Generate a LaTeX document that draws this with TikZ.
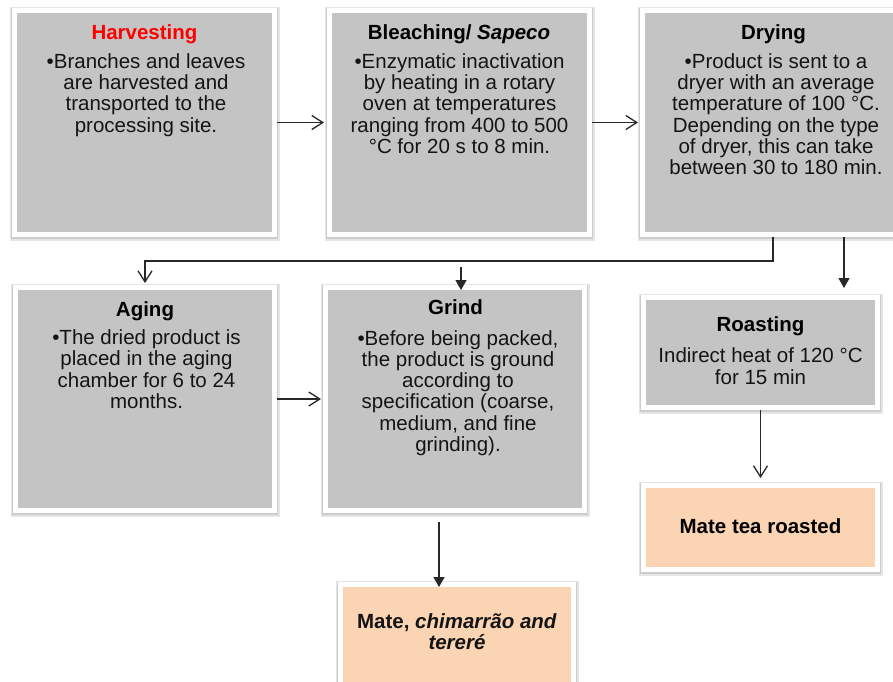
\documentclass[tikz,border=0pt]{standalone}
\usepackage{fontspec}
\setmainfont{Liberation Sans}
\usetikzlibrary{arrows.meta}
\definecolor{boxgray}{RGB}{196,196,196}
\definecolor{peach}{RGB}{251,212,180}
\definecolor{linecol}{RGB}{40,40,40}
\definecolor{titlered}{RGB}{255,0,0}
\begin{document}
\begin{tikzpicture}[x=1pt,y=-1pt,
  framebox/.style={draw=white, line width=5pt, inner sep=0pt,
    preaction={draw=black!10, line width=10pt, transform canvas={yshift=-1.2pt}},
    preaction={draw=black!20, line width=7.5pt, transform canvas={yshift=-1.2pt}}},
  graybox/.style={framebox, fill=boxgray},
  peachbox/.style={framebox, fill=peach},
  ttl/.style={font=\fontsize{20.5}{24}\selectfont\bfseries, anchor=base, inner sep=0pt},
  bodytxt/.style={font=\fontsize{20.5}{21.3}\selectfont, align=center, anchor=base, inner sep=0pt, text=black!92},
  openarrow/.style={draw=linecol, line width=1.3pt, -{Straight Barb[length=11pt,width=14pt]}},
  fillarrow/.style={draw=linecol, line width=1.3pt, -{Triangle[length=10pt,width=11pt]}}
]
\useasboundingbox (0,0) rectangle (893,681);
\clip (0,0) rectangle (893,681);
\fill[white] (0,0) rectangle (893,681);

% boxes
\node[graybox, minimum width=260pt, minimum height=224pt] (harv) at (144.5,122.5) {};
\node[graybox, minimum width=260pt, minimum height=224pt] (bleach) at (459.5,122.5) {};
\node[graybox, minimum width=261pt, minimum height=224pt] (dry) at (773,122.5) {};
\node[graybox, minimum width=259pt, minimum height=223pt] (aging) at (145,399) {};
\node[graybox, minimum width=259pt, minimum height=223pt] (grind) at (455,399) {};
\node[graybox, minimum width=234pt, minimum height=110pt] (roast) at (760.5,352.5) {};
\node[peachbox, minimum width=234pt, minimum height=84pt] (mtr) at (760.5,527.5) {};
\node[peachbox, minimum width=233pt, minimum height=135pt] (mate) at (457,652) {};

% texts (multi-line nodes: base anchor sits on the last line)
\node[ttl, text=titlered] (harvT) at (144.5,39.3) {Harvesting};
\node[bodytxt] (harvB) at (146,132.2) {•Branches and leaves\\are harvested and\\transported to the\\processing site.};

\node[ttl] (bleachT) at (459,39.3) {Bleaching/ \textit{Sapeco}};
\node[bodytxt] (bleachB) at (459.5,153.5) {•Enzymatic inactivation\\by heating in a rotary\\oven at temperatures\\ranging from 400 to 500\\°C for 20 s to 8 min.};

\node[ttl] (dryT) at (773.5,39.3) {Drying};
\node[bodytxt] (dryB) at (776,174.8) {•Product is sent to a\\dryer with an average\\temperature of 100 °C.\\Depending on the type\\of dryer, this can take\\between 30 to 180 min.};

\node[ttl] (agingT) at (145,316.5) {Aging};
\node[bodytxt] (agingB) at (146.5,408.4) {•The dried product is\\placed in the aging\\chamber for 6 to 24\\months.};

\node[ttl] (grindT) at (455.5,314) {Grind};
\node[bodytxt] (grindB) at (458,451.5) {•Before being packed,\\the product is ground\\according to\\specification (coarse,\\medium, and fine\\grinding).};

\node[ttl] (roastT) at (760.5,331.7) {Roasting};
\node[bodytxt] (roastB) at (760.5,384) {Indirect heat of 120 °C\\for 15 min};

\node[ttl] (mtrT) at (760.5,533) {Mate tea roasted};
\node[bodytxt, font=\fontsize{20.5}{21}\selectfont\bfseries] (mateT) at (457,649) {Mate, \textit{chimarrão and}\\\textit{tereré}};

% connectors
\draw[openarrow, shorten >=3pt] (harv.east) -- (bleach.west);
\draw[openarrow, shorten >=2pt] (bleach.east) -- (dry.west);
\draw[openarrow, shorten >=2pt] (dry.south) -- ++(0,24) -| (aging.north);
\coordinate (gstart) at (461,267);
\draw[fillarrow, shorten >=-5pt] (gstart) -- (gstart |- grind.north);
\coordinate (dr) at (844,0);
\draw[fillarrow, shorten >=7pt] (dry.south -| dr) -- (roast.north -| dr);
\draw[openarrow, shorten >=2pt] (aging.east) -- (grind.west);
\coordinate (gm) at (439,522);
\draw[fillarrow, shorten >=-5pt] (gm) -- (gm |- mate.north);
\draw[openarrow, shorten >=5pt] (roast.south) -- (mtr.north);
\end{tikzpicture}
\end{document}
